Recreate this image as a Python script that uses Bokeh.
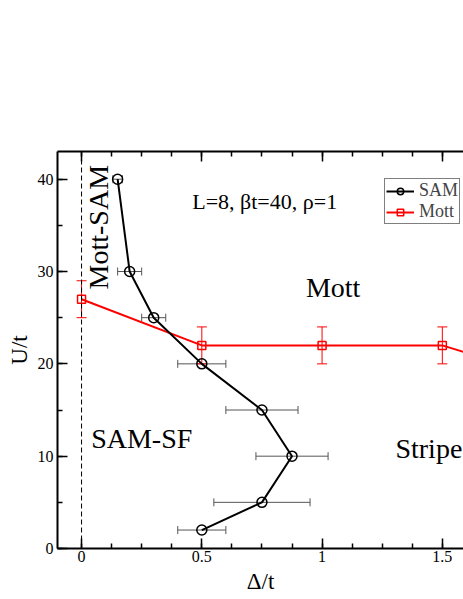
import math
from bokeh.plotting import figure
from bokeh.models import (ColumnDataSource, Whisker, TeeHead, LinearAxis, Range1d, Span,
                          Label, Legend, LegendItem, SingleIntervalTicker, CustomJSTickFormatter)
from bokeh.embed import file_html
from bokeh.resources import INLINE

# ---- data ----
sam_delta = [0.15, 0.2, 0.3, 0.5, 0.75, 0.875, 0.75, 0.5]
sam_U = [40, 30, 25, 20, 15, 10, 5, 2]
sam_delta_err = [0.02, 0.05, 0.05, 0.1, 0.15, 0.15, 0.2, 0.1]

mott_delta = [0.0, 0.5, 1.0, 1.5, 1.75]
mott_U = [27, 22, 22, 22, 20]
mott_U_err = [2, 2, 2, 2, 2]

FONT = "Liberation Serif"

sam_src = ColumnDataSource(dict(
    x=sam_delta, y=sam_U,
    lo=[v - e for v, e in zip(sam_delta, sam_delta_err)],
    hi=[v + e for v, e in zip(sam_delta, sam_delta_err)],
))
mott_src = ColumnDataSource(dict(
    x=mott_delta, y=mott_U,
    lo=[v - e for v, e in zip(mott_U, mott_U_err)],
    hi=[v + e for v, e in zip(mott_U, mott_U_err)],
))

p = figure(width=463, height=599, x_range=Range1d(-0.1, 1.588), y_range=Range1d(0, 43),
           output_backend="svg", toolbar_location=None,
           min_border_left=57, min_border_right=0, min_border_top=151, min_border_bottom=51,
           x_axis_label="Δ/t", y_axis_label="U/t")
p.outline_line_color = None
p.xgrid.visible = False
p.ygrid.visible = False

xb = p.below[0]
yl = p.left[0]

xt = SingleIntervalTicker(interval=0.5, num_minor_ticks=4)
yt = SingleIntervalTicker(interval=10, num_minor_ticks=2)
xb.ticker = xt
yl.ticker = yt
xb.formatter = CustomJSTickFormatter(code="return String(Math.round(tick*1000)/1000);")

top = LinearAxis(ticker=xt)
p.add_layout(top, "above")

for ax in [xb, yl, top]:
    ax.axis_line_width = 2
    ax.major_tick_in = 10
    ax.major_tick_out = 0
    ax.minor_tick_in = 5
    ax.minor_tick_out = 0
    ax.major_tick_line_width = 1.5
    ax.minor_tick_line_width = 1.5
    ax.major_label_text_font = FONT
    ax.major_label_text_font_size = "16px"
    ax.major_label_text_color = "black"
    ax.axis_label_text_font = FONT
    ax.axis_label_text_font_size = "23px"
    ax.axis_label_text_font_style = "normal"
    ax.axis_label_text_color = "black"

top.major_label_text_color = None
top.major_label_text_font_size = "1px"

xb.major_label_standoff = 2
xb.axis_label_standoff = 4
yl.major_label_standoff = 4
yl.axis_label_standoff = 3

p.add_layout(Span(location=0, dimension="height", line_dash="5 3", line_width=1, line_color="black"))

# error bars
p.add_layout(Whisker(source=sam_src, base="y", lower="lo", upper="hi", dimension="width",
                     line_color="#555555", line_width=1,
                     upper_head=TeeHead(size=8, line_color="#555555", line_width=1),
                     lower_head=TeeHead(size=8, line_color="#555555", line_width=1)))
p.add_layout(Whisker(source=mott_src, base="x", lower="lo", upper="hi", dimension="height",
                     line_color="red", line_width=1,
                     upper_head=TeeHead(size=10, line_color="red", line_width=1),
                     lower_head=TeeHead(size=10, line_color="red", line_width=1)))

l2 = p.line("x", "y", source=mott_src, line_color="red", line_width=2)
s2 = p.scatter("x", "y", source=mott_src, marker="square", size=8, fill_color=None,
               line_color="red", line_width=1.5)
l1 = p.line("x", "y", source=sam_src, line_color="black", line_width=2)
s1 = p.scatter("x", "y", source=sam_src, marker="circle", size=10, fill_color=None,
               line_color="black", line_width=1.5)

legend = Legend(items=[LegendItem(label="SAM", renderers=[l1, s1]),
                       LegendItem(label="Mott", renderers=[l2, s2])],
                location=(327, 324), label_text_font=FONT, label_text_font_size="18px",
                glyph_width=28, glyph_height=16, label_height=16, label_standoff=5,
                padding=1, spacing=0, margin=0, border_line_color="black",
                border_line_width=1.5, background_fill_alpha=1.0)
p.add_layout(legend, "center")

def lab(x, y, t, size, align="left", angle=0.0):
    p.add_layout(Label(x=x, y=y, text=t, text_font=FONT, text_font_size=size,
                       text_align=align, text_baseline="alphabetic", angle=angle,
                       text_color="black"))

lab(0.46, 37.6, "L=8, βt=40, ρ=1", "22px")
lab(1.046, 28.3, "Mott", "28px", align="center")
lab(0.04, 11.9, "SAM-SF", "28px")
lab(1.305, 10.88, "Stripe", "28px")
lab(0.07, 34.8, "Mott-SAM", "28px", align="center", angle=math.pi / 2)

open("out.html", "w").write(file_html(p, INLINE))
